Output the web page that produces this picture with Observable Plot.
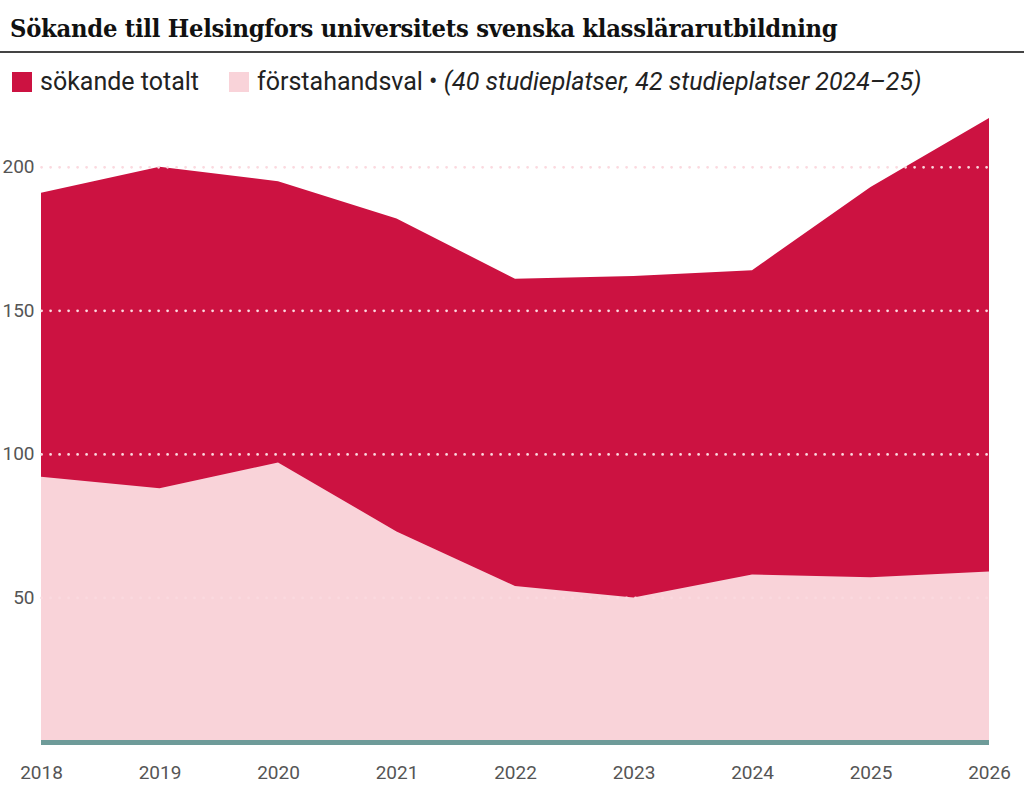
<!DOCTYPE html>
<html>
<head>
<meta charset="utf-8">
<script src="https://cdn.jsdelivr.net/npm/d3@7"></script>
<script src="https://cdn.jsdelivr.net/npm/@observablehq/plot@0.6"></script>
<style>
  html, body { margin: 0; padding: 0; background: #fff; }
  #wrap { position: relative; width: 1024px; height: 800px; overflow: hidden; }
  #title { position: absolute; left: 10px; top: 16px; font: 700 25px/26px "DejaVu Serif", serif; color: #111; white-space: nowrap; letter-spacing: -0.3px; transform: scaleX(0.91); transform-origin: 0 0; }
  #rule { position: absolute; left: 0; top: 51px; width: 1024px; height: 2px; background: #444; }
  #legend { position: absolute; left: 12px; top: 68px; font: 400 25px/28px Roboto, sans-serif; color: #222; white-space: nowrap; display: flex; align-items: center; }
  .sw { display: inline-block; width: 20px; height: 20px; margin-right: 8px; }
  #chart { position: absolute; left: 0; top: 100px; }
</style>
</head>
<body>
<div id="wrap">
  <div id="title">Sökande till Helsingfors universitets svenska klasslärarutbildning</div>
  <div id="rule"></div>
  <div id="legend"></div>
  <div id="chart"></div>
</div>
<script>
const years = [2018, 2019, 2020, 2021, 2022, 2023, 2024, 2025, 2026];
const totalt = [191, 200, 195, 182, 161, 162, 164, 193, 217];
const forstahandsval = [92, 88, 97, 73, 54, 50, 58, 57, 59];
const yTicks = [50, 100, 150, 200];
const seriesNames = ["sökande totalt", "förstahandsval"];
const seriesColors = ["#cc1241", "#f9d3d9"];
const legendNote = "(40 studieplatser, 42 studieplatser 2024–25)";

const data = years.map((y, i) => ({year: y, totalt: totalt[i], forsta: forstahandsval[i]}));

// legend
const legend = document.getElementById("legend");
legend.innerHTML =
  `<span class="sw" style="background:${seriesColors[0]}"></span><span>${seriesNames[0]}</span>` +
  `<span class="sw" style="background:${seriesColors[1]};margin-left:30px"></span><span>${seriesNames[1]} • <i>${legendNote}</i></span>`;

const plot = Plot.plot({
  width: 1024,
  height: 700,
  marginLeft: 41,
  marginRight: 35,
  marginTop: 18,
  marginBottom: 59,
  x: {domain: [2018, 2026]},
  y: {domain: [0, 217]},
  style: {fontFamily: "Roboto, sans-serif", background: "transparent"},
  marks: [
    Plot.areaY(data, {x: "year", y: "totalt", fill: seriesColors[0], curve: "linear"}),
    Plot.areaY(data, {x: "year", y: "forsta", fill: seriesColors[1], curve: "linear"}),
    Plot.ruleY(yTicks, {stroke: "#fbd9df", strokeWidth: 2.8, strokeDasharray: "0,9", strokeLinecap: "round", x1: 2018.005, x2: 2026}),
    Plot.ruleY([0], {stroke: "#6e9b99", strokeWidth: 5, dy: 1}),
    Plot.axisY(yTicks, {tickSize: 0, tickPadding: 7, fontSize: 19, fill: "#555", label: null}),
    Plot.axisX(years, {tickSize: 0, tickPadding: 24, fontSize: 19, fill: "#555", label: null, tickFormat: d => String(d)})
  ]
});
document.getElementById("chart").appendChild(plot);
</script>
</body>
</html>
